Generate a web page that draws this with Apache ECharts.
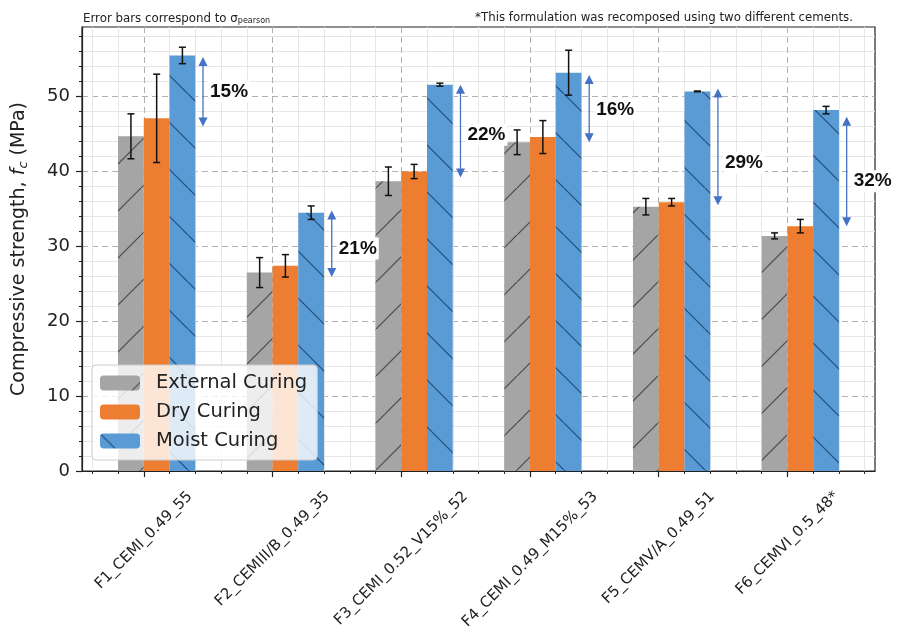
<!DOCTYPE html>
<html><head><meta charset="utf-8">
<script src="https://cdn.jsdelivr.net/npm/echarts@6/dist/echarts.min.js"></script>
<style>html,body{margin:0;padding:0;background:#fff}#c{width:900px;height:632px}</style>
</head><body><div id="c"></div>
<script>
// ---------------- data ----------------
const categories = ['F1_CEMI_0.49_55','F2_CEMIII/B_0.49_35','F3_CEMI_0.52_V15%_52','F4_CEMI_0.49_M15%_53','F5_CEMV/A_0.49_51','F6_CEMVI_0.5_48*'];
const seriesNames = ['External Curing','Dry Curing','Moist Curing'];
const externalCuring = [44.7, 26.5, 38.7, 43.9, 35.3, 31.4];
const dryCuring      = [47.1, 27.4, 40.0, 44.6, 35.9, 32.7];
const moistCuring    = [55.5, 34.5, 51.6, 53.2, 50.7, 48.2];
const externalErr = [3.0, 2.0, 1.9, 1.65, 1.1, 0.4];
const dryErr      = [5.9, 1.5, 0.95, 2.2, 0.5, 0.9];
const moistErr    = [1.1, 0.9, 0.2, 3.0, 0.05, 0.5];
const gainLabels  = ['15%','21%','22%','16%','29%','32%'];
const arrowTop    = [55.3, 34.8, 51.6, 52.9, 51.1, 47.3];
const arrowBottom = [46.0, 25.9, 39.2, 43.9, 35.5, 32.7];
const gainLabelY  = [50.7, 29.7, 44.9, 48.3, 41.2, 38.7];
const yTickValues = [0, 10, 20, 30, 40, 50];

// ---------------- layout / style ----------------
const X_MIN = -0.48, X_MAX = 5.68, Y_MIN = 0, Y_MAX = 59.3;
const GRID = {left: 82, right: 25, top: 27, bottom: 160};
const BAR_UNITS = 0.2;
const barPx = (900 - GRID.left - GRID.right) / (X_MAX - X_MIN) * BAR_UNITS;
const offsets = [-0.1, 0.1, 0.3];
const ARROW_OFFSET = 0.46;
const XL_FONT = 15, XL_FAMILY = 'DejaVu Sans', XL_MARGIN = 8, XL_TOP = 18;

function hatch(bg, fg, dir) {
  const s = 47;
  const c = document.createElement('canvas');
  c.width = s; c.height = s;
  const g = c.getContext('2d');
  g.fillStyle = bg; g.fillRect(0, 0, s, s);
  g.strokeStyle = fg; g.lineWidth = 1.2;
  g.beginPath();
  if (dir === '/') { g.moveTo(-3, s + 3); g.lineTo(s + 3, -3); }
  else { g.moveTo(-3, -3); g.lineTo(s + 3, s + 3); }
  g.stroke();
  return c;
}
const fills = [
  {image: hatch('#a5a5a5', '#4a4a4a', '/'), repeat: 'repeat'},
  '#ed7d31',
  {image: hatch('#5b9bd5', '#1f4e79', '\\'), repeat: 'repeat'}
];
const values = [externalCuring, dryCuring, moistCuring];
const errs = [externalErr, dryErr, moistErr];

const minorX = [];
for (let k = -2; k <= 28; k++) { if (k % 5 !== 0) minorX.push(+(k * 0.2).toFixed(2)); }
const minorY = [];
for (let v = 2; v < Y_MAX; v += 2) { if (v % 10 !== 0) minorY.push(v); }

// rotated (45deg) x labels centred on their tick, top-aligned below the axis
const mctx = document.createElement('canvas').getContext('2d');
mctx.font = XL_FONT + 'px "' + XL_FAMILY + '"';
const xRich = {};
categories.forEach((c, i) => {
  const L = mctx.measureText(c).width;
  const half = (L + XL_FONT) / (2 * Math.SQRT2);
  const D = XL_TOP + half - XL_MARGIN;
  const P = Math.SQRT2 * D;
  xRich['p' + i] = {fontSize: XL_FONT, fontFamily: XL_FAMILY, color: '#222', padding: [P, P, 0, 0]};
});

const barSeries = seriesNames.map((name, s) => ({
  name, type: 'bar', xAxisIndex: 0, yAxisIndex: 0,
  barWidth: barPx, barGap: '-100%',
  itemStyle: {color: fills[s]},
  data: values[s].map((v, i) => [i + offsets[s], v]),
  z: 2
}));

const errSeries = seriesNames.map((name, s) => ({
  name: 'err' + s, type: 'custom', xAxisIndex: 0, yAxisIndex: 0, z: 5,
  data: values[s].map((v, i) => [i + offsets[s], v, errs[s][i]]),
  renderItem(params, api) {
    const x = api.value(0), m = api.value(1), e = api.value(2);
    const t = api.coord([x, m + e]), b = api.coord([x, m - e]);
    const cw = 3.5, st = {stroke: '#111', lineWidth: 1.5};
    return {type: 'group', children: [
      {type: 'line', shape: {x1: t[0], y1: t[1], x2: b[0], y2: b[1]}, style: st},
      {type: 'line', shape: {x1: t[0] - cw, y1: t[1], x2: t[0] + cw, y2: t[1]}, style: st},
      {type: 'line', shape: {x1: b[0] - cw, y1: b[1], x2: b[0] + cw, y2: b[1]}, style: st}
    ]};
  }
}));

const arrowSeries = {
  name: 'arrows', type: 'custom', xAxisIndex: 0, yAxisIndex: 0, z: 6, clip: false,
  data: categories.map((c, i) => [i + ARROW_OFFSET, arrowBottom[i], arrowTop[i], gainLabelY[i]]),
  renderItem(params, api) {
    const x = api.value(0);
    const b = api.coord([x, api.value(1)]), t = api.coord([x, api.value(2)]);
    const ly = api.coord([x, api.value(3)])[1];
    const col = '#4472c4', hl = 9, hw = 4.5;
    return {type: 'group', children: [
      {type: 'line', shape: {x1: t[0], y1: t[1] + hl - 1, x2: b[0], y2: b[1] - hl + 1}, style: {stroke: col, lineWidth: 1.3}},
      {type: 'polygon', shape: {points: [[t[0], t[1]], [t[0] - hw, t[1] + hl], [t[0] + hw, t[1] + hl]]}, style: {fill: col}},
      {type: 'polygon', shape: {points: [[b[0], b[1]], [b[0] - hw, b[1] - hl], [b[0] + hw, b[1] - hl]]}, style: {fill: col}},
      {type: 'text', x: t[0] + 5, y: ly, style: {
        text: gainLabels[params.dataIndex], fill: '#111',
        font: 'bold 19px "Liberation Sans", Arial, sans-serif',
        align: 'left', verticalAlign: 'middle', backgroundColor: '#fff', padding: [2, 2, 1, 2]
      }}
    ]};
  }
};

const axisColor = '#222';
const option = {
  animation: false,
  backgroundColor: '#fff',
  textStyle: {fontFamily: 'DejaVu Sans'},
  title: [
    {text: 'Error bars correspond to σ{s|pearson}', left: 78, top: 7,
     textStyle: {fontSize: 11.8, fontWeight: 'normal', color: '#222', fontFamily: 'DejaVu Sans',
       rich: {s: {fontSize: 8, color: '#222', fontFamily: 'DejaVu Sans', padding: [5, 0, 0, 0]}}}},
    {text: '*This formulation was recomposed using two different cements.', right: 42, top: 7,
     textStyle: {fontSize: 11.8, fontWeight: 'normal', color: '#222', fontFamily: 'DejaVu Sans'}}
  ],
  grid: {left: GRID.left, right: GRID.right, top: GRID.top, bottom: GRID.bottom, show: true,
         borderColor: axisColor, borderWidth: 1.2, backgroundColor: 'transparent', containLabel: false},
  legend: {
    data: seriesNames, orient: 'vertical', left: 92, top: 365,
    itemWidth: 40, itemHeight: 15, itemGap: 9,
    backgroundColor: 'rgba(255,255,255,0.8)', borderColor: '#cccccc', borderWidth: 1, borderRadius: 4,
    padding: [8, 10, 9, 8],
    textStyle: {fontSize: 19.5, color: '#222', fontFamily: 'DejaVu Sans', padding: [0, 0, 0, 11]}
  },
  xAxis: [
    {type: 'value', min: X_MIN, max: X_MAX, position: 'bottom',
     axisLine: {show: true, onZero: false, lineStyle: {color: axisColor, width: 1.2}},
     axisTick: {show: true, customValues: [0, 1, 2, 3, 4, 5], length: 6, lineStyle: {color: axisColor, width: 1.2}},
     axisLabel: {customValues: [0, 1, 2, 3, 4, 5],
                 formatter: v => { const i = Math.round(v); return '{p' + i + '|' + categories[i] + '}'; },
                 rotate: 45, align: 'center', verticalAlign: 'middle',
                 fontSize: XL_FONT, color: '#222', margin: XL_MARGIN, fontFamily: XL_FAMILY, rich: xRich},
     splitLine: {show: true, lineStyle: {color: '#b0b0b0', width: 1, type: [6, 4]}}},
    {type: 'value', min: X_MIN, max: X_MAX, position: 'bottom',
     axisLine: {show: false, onZero: false},
     axisTick: {show: true, customValues: minorX, length: 3, lineStyle: {color: axisColor, width: 1}},
     axisLabel: {show: false},
     splitLine: {show: true, lineStyle: {color: '#e6e6e6', width: 1}}}
  ],
  yAxis: [
    {type: 'value', min: Y_MIN, max: Y_MAX, position: 'left',
     name: '{a|Compressive strength, }{i|f}{s|c}{a| (MPa)}', nameLocation: 'middle', nameGap: 52,
     nameTextStyle: {fontSize: 19, color: '#222', fontFamily: 'DejaVu Sans',
       rich: {a: {fontSize: 19, color: '#222', fontFamily: 'DejaVu Sans'},
              i: {fontSize: 19, fontStyle: 'italic', color: '#222', fontFamily: 'DejaVu Sans'},
              s: {fontSize: 13, fontStyle: 'italic', color: '#222', fontFamily: 'DejaVu Sans', padding: [8, 0, 0, 0]}}},
     axisLine: {show: true, onZero: false, lineStyle: {color: axisColor, width: 1.2}},
     axisTick: {show: true, customValues: yTickValues, length: 6, lineStyle: {color: axisColor, width: 1.2}},
     axisLabel: {customValues: yTickValues, fontSize: 18, color: '#222', margin: 12, fontFamily: 'DejaVu Sans'},
     splitLine: {show: true, lineStyle: {color: '#b0b0b0', width: 1, type: [6, 4]}}},
    {type: 'value', min: Y_MIN, max: Y_MAX, position: 'left',
     axisLine: {show: false, onZero: false},
     axisTick: {show: true, customValues: minorY, length: 3, lineStyle: {color: axisColor, width: 1}},
     axisLabel: {show: false},
     splitLine: {show: true, lineStyle: {color: '#e6e6e6', width: 1}}}
  ],
  series: [...barSeries, ...errSeries, arrowSeries]
};
const chart = echarts.init(document.getElementById('c'), null, {renderer: 'canvas'});
chart.setOption(option);
</script>
</body></html>
